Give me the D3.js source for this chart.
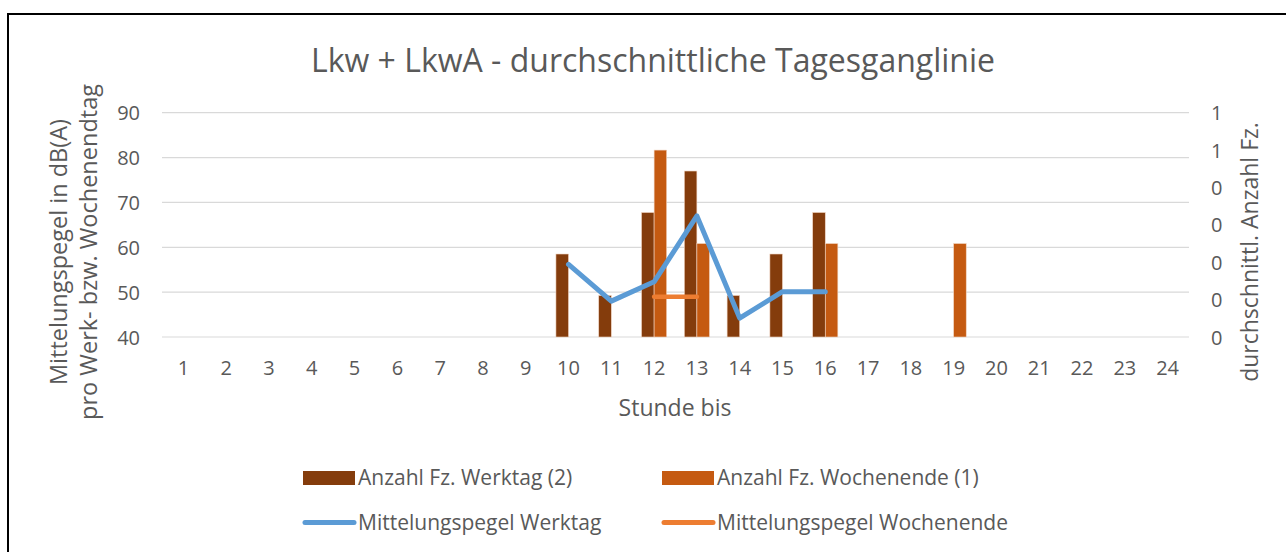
<!DOCTYPE html>
<html>
<head>
<meta charset="utf-8">
<script src="https://cdn.jsdelivr.net/npm/d3@7"></script>
<style>
  body { margin: 0; background: #fff; }
  text { font-family: "Open Sans", sans-serif; fill: #595959; }
</style>
</head>
<body>
<div id="chart"></div>
<script>
// Daten
const stunden = d3.range(1, 25).map(String)
const anzahlWerktag   = [0,0,0,0,0,0,0,0,0,0.222,0.111,0.333,0.444,0.111,0.222,0.333,0,0,0,0,0,0,0,0]
const anzahlWochenende = [0,0,0,0,0,0,0,0,0,0,0,0.5,0.25,0,0,0.25,0,0,0.25,0,0,0,0,0]
const pegelWerktag    = [null,null,null,null,null,null,null,null,null,56.2,48.0,52.3,67.0,44.2,50.1,50.1,null,null,null,null,null,null,null,null]
const pegelWochenende = [null,null,null,null,null,null,null,null,null,null,null,49.0,49.0,null,null,null,null,null,null,null,null,null,null,null]
const linksTicks = [40, 50, 60, 70, 80, 90]
const rechtsTicks = [0, 0.1, 0.2, 0.3, 0.4, 0.5, 0.6]
const rechtsTickLabels = ["0", "0", "0", "0", "0", "1", "1"]

const W = 1286, H = 552
const m = { left: 162, right: 1189, top: 112.7, bottom: 337 }

const svg = d3.select("#chart").append("svg")
  .attr("width", W)
  .attr("height", H)

// Rahmen
svg.append("rect")
  .attr("x", 8).attr("y", 14)
  .attr("width", W + 10).attr("height", H + 10)
  .attr("fill", "none")
  .attr("stroke", "#000")
  .attr("stroke-width", 2)

// Skalen
const x = d3.scaleBand().domain(stunden).range([m.left, m.right])
const xInner = d3.scaleBand().domain(["wt", "we"]).range([0, x.bandwidth()]).paddingOuter(0.7).paddingInner(0)
const yL = d3.scaleLinear().domain([40, 90]).range([m.bottom, m.top])
const yR = d3.scaleLinear().domain([0, 0.6]).range([m.bottom, m.top])

// Gitter
svg.append("g").selectAll("line").data(linksTicks).join("line")
  .attr("x1", m.left).attr("x2", m.right)
  .attr("y1", d => yL(d)).attr("y2", d => yL(d))
  .attr("stroke", "#d9d9d9").attr("stroke-width", 1.2)

// Achse links
const axL = svg.append("g")
  .attr("transform", `translate(${m.left - 22},0)`)
  .call(d3.axisLeft(yL).tickValues(linksTicks).tickSize(0).tickPadding(0))
axL.select(".domain").remove()
axL.selectAll("text").style("font-size", "20px").attr("dy", "0.35em")

// Achse rechts
const axR = svg.append("g")
  .attr("transform", `translate(${m.right + 22},0)`)
  .call(d3.axisRight(yR).tickValues(rechtsTicks).tickSize(0).tickPadding(0)
    .tickFormat((d, i) => rechtsTickLabels[i]))
axR.select(".domain").remove()
axR.selectAll("text").style("font-size", "20px").attr("dy", "0.35em")

// Achse unten
const axX = svg.append("g")
  .attr("transform", `translate(0,${m.bottom + 31})`)
  .call(d3.axisBottom(x).tickSize(0).tickPadding(0))
axX.select(".domain").remove()
axX.selectAll("text").style("font-size", "20px").attr("dy", "0.35em")

// Balken
const bars = svg.append("g")
bars.selectAll("rect.wt").data(anzahlWerktag).join("rect")
  .attr("class", "wt")
  .attr("x", (d, i) => x(stunden[i]) + xInner("wt"))
  .attr("width", xInner.bandwidth())
  .attr("y", d => yR(d))
  .attr("height", d => yR(0) - yR(d))
  .attr("fill", "#843c0c")
  .attr("stroke", d => d > 0 ? "#f2d6c4" : "none")
  .attr("stroke-width", 0.6)
bars.selectAll("rect.we").data(anzahlWochenende).join("rect")
  .attr("class", "we")
  .attr("x", (d, i) => x(stunden[i]) + xInner("we"))
  .attr("width", xInner.bandwidth())
  .attr("y", d => yR(d))
  .attr("height", d => yR(0) - yR(d))
  .attr("fill", "#c55a11")
  .attr("stroke", d => d > 0 ? "#f2d6c4" : "none")
  .attr("stroke-width", 0.6)

// Linien
const linie = d3.line()
  .defined(d => d != null)
  .x((d, i) => x(stunden[i]) + x.bandwidth() / 2)
  .y(d => yL(d))

svg.append("path").datum(pegelWochenende)
  .attr("d", linie)
  .attr("fill", "none").attr("stroke", "#ed7d31")
  .attr("stroke-width", 4.5).attr("stroke-linecap", "round").attr("stroke-linejoin", "round")
svg.append("path").datum(pegelWerktag)
  .attr("d", linie)
  .attr("fill", "none").attr("stroke", "#5b9bd5")
  .attr("stroke-width", 5).attr("stroke-linecap", "round").attr("stroke-linejoin", "round")

// Titel
svg.append("text")
  .attr("x", 653).attr("y", 72)
  .attr("text-anchor", "middle")
  .style("font-size", "32px")
  .text("Lkw + LkwA - durchschnittliche Tagesganglinie")

// Achsentitel
const yTitel = 252
svg.append("text")
  .attr("transform", `translate(67,${yTitel}) rotate(-90)`)
  .attr("text-anchor", "middle")
  .style("font-size", "23.5px")
  .text("Mittelungspegel in dB(A)")
svg.append("text")
  .attr("transform", `translate(97,${yTitel}) rotate(-90)`)
  .attr("text-anchor", "middle")
  .style("font-size", "23.5px")
  .text("pro Werk- bzw. Wochenendtag")
svg.append("text")
  .attr("transform", `translate(1258,${yTitel}) rotate(-90)`)
  .attr("text-anchor", "middle")
  .style("font-size", "23px")
  .text("durchschnittl. Anzahl Fz.")
svg.append("text")
  .attr("x", 675).attr("y", 408).attr("dy", "0.35em")
  .attr("text-anchor", "middle")
  .style("font-size", "23px")
  .text("Stunde bis")

// Legende
const legende = [
  { name: "Anzahl Fz. Werktag (2)", farbe: "#843c0c", typ: "bar", lx: 303, ly: 478 },
  { name: "Anzahl Fz. Wochenende (1)", farbe: "#c55a11", typ: "bar", lx: 662, ly: 478 },
  { name: "Mittelungspegel Werktag", farbe: "#5b9bd5", typ: "line", lx: 303, ly: 522.5 },
  { name: "Mittelungspegel Wochenende", farbe: "#ed7d31", typ: "line", lx: 662, ly: 522.5 }
]
const lg = svg.append("g").selectAll("g").data(legende).join("g")
  .attr("transform", d => `translate(${d.lx},${d.ly})`)
lg.filter(d => d.typ === "bar").append("rect")
  .attr("x", 0).attr("y", -7).attr("width", 52).attr("height", 14)
  .attr("fill", d => d.farbe)
lg.filter(d => d.typ === "line").append("line")
  .attr("x1", 2).attr("x2", 51)
  .attr("stroke", d => d.farbe).attr("stroke-width", 5).attr("stroke-linecap", "round")
lg.append("text")
  .attr("x", 55).attr("dy", "0.35em")
  .style("font-size", "21px")
  .text(d => d.name)
</script>
</body>
</html>
